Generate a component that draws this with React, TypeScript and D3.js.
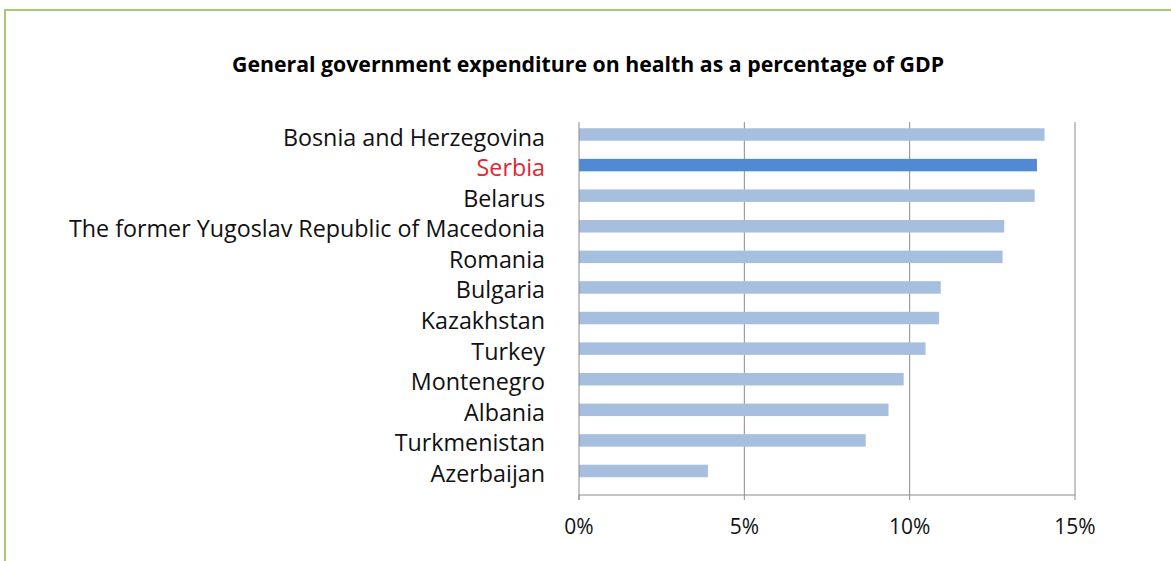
import React, { useEffect, useRef } from "react";
import * as d3 from "d3";

const countries = [
  "Bosnia and Herzegovina",
  "Serbia",
  "Belarus",
  "The former Yugoslav Republic of Macedonia",
  "Romania",
  "Bulgaria",
  "Kazakhstan",
  "Turkey",
  "Montenegro",
  "Albania",
  "Turkmenistan",
  "Azerbaijan",
];
const values = [14.08, 13.85, 13.78, 12.86, 12.81, 10.94, 10.89, 10.48, 9.82, 9.36, 8.67, 3.9];
const highlight = "Serbia";
const ticks = [0, 5, 10, 15];
const title = "General government expenditure on health as a percentage of GDP";

const W = 1171;
const H = 561;

export default function App() {
  const ref = useRef<SVGSVGElement>(null);

  useEffect(() => {
    const svg = d3.select(ref.current);
    svg.selectAll("*").remove();

    const x = d3.scaleLinear().domain([0, 15]).range([579, 1075]);
    const y = d3.scalePoint<string>().domain(countries).range([134.5, 471]);
    const barH = 12.5;
    const plotTop = 122;
    const axisY = 495;

    // border
    svg
      .append("rect")
      .attr("x", 5)
      .attr("y", 10)
      .attr("width", W + 20)
      .attr("height", H + 20)
      .attr("fill", "none")
      .attr("stroke", "#a6cb6e")
      .attr("stroke-width", 2);

    svg
      .append("text")
      .attr("x", 588)
      .attr("y", 72)
      .attr("text-anchor", "middle")
      .attr("font-family", "'Open Sans', sans-serif")
      .attr("font-weight", "bold")
      .attr("font-size", 21.5)
      .attr("textLength", 712)
      .attr("lengthAdjust", "spacingAndGlyphs")
      .attr("fill", "#000")
      .text(title);

    // gridlines
    svg
      .selectAll("line.grid")
      .data(ticks.filter((t) => t > 0))
      .join("line")
      .attr("class", "grid")
      .attr("x1", (d) => x(d))
      .attr("x2", (d) => x(d))
      .attr("y1", plotTop)
      .attr("y2", axisY)
      .attr("stroke", "#8c8c8c")
      .attr("stroke-width", 1);

    // bars
    svg
      .selectAll("rect.bar")
      .data(countries)
      .join("rect")
      .attr("class", "bar")
      .attr("x", x(0))
      .attr("y", (d) => (y(d) as number) - barH / 2)
      .attr("width", (d, i) => x(values[i]) - x(0))
      .attr("height", barH)
      .attr("fill", (d) => (d === highlight ? "#5189d2" : "#a7bfdf"));

    // y axis line
    svg
      .append("line")
      .attr("x1", x(0))
      .attr("x2", x(0))
      .attr("y1", plotTop)
      .attr("y2", axisY + 5)
      .attr("stroke", "#8c8c8c");

    // x axis line
    svg
      .append("line")
      .attr("x1", x(0))
      .attr("x2", x(15))
      .attr("y1", axisY)
      .attr("y2", axisY)
      .attr("stroke", "#8c8c8c");

    svg
      .selectAll("line.tick")
      .data(ticks)
      .join("line")
      .attr("class", "tick")
      .attr("x1", (d) => x(d))
      .attr("x2", (d) => x(d))
      .attr("y1", axisY)
      .attr("y2", axisY + 5)
      .attr("stroke", "#8c8c8c");

    svg
      .selectAll("text.tl")
      .data(ticks)
      .join("text")
      .attr("class", "tl")
      .attr("x", (d) => x(d))
      .attr("y", 534)
      .attr("text-anchor", "middle")
      .attr("font-family", "'Open Sans', sans-serif")
      .attr("font-size", 21)
      .attr("fill", "#111")
      .text((d) => `${d}%`);

    // category labels
    svg
      .selectAll("text.cl")
      .data(countries)
      .join("text")
      .attr("class", "cl")
      .attr("x", 545)
      .attr("y", (d) => (y(d) as number) + 11)
      .attr("text-anchor", "end")
      .attr("font-family", "'Open Sans', sans-serif")
      .attr("font-size", 23.3)
      .attr("fill", (d) => (d === highlight ? "#e02630" : "#111"))
      .text((d) => d);
  }, []);

  return (
    <svg
      ref={ref}
      width={W}
      height={H}
      style={{ position: "absolute", left: 0, top: 0, display: "block", background: "#fff" }}
    />
  );
}
